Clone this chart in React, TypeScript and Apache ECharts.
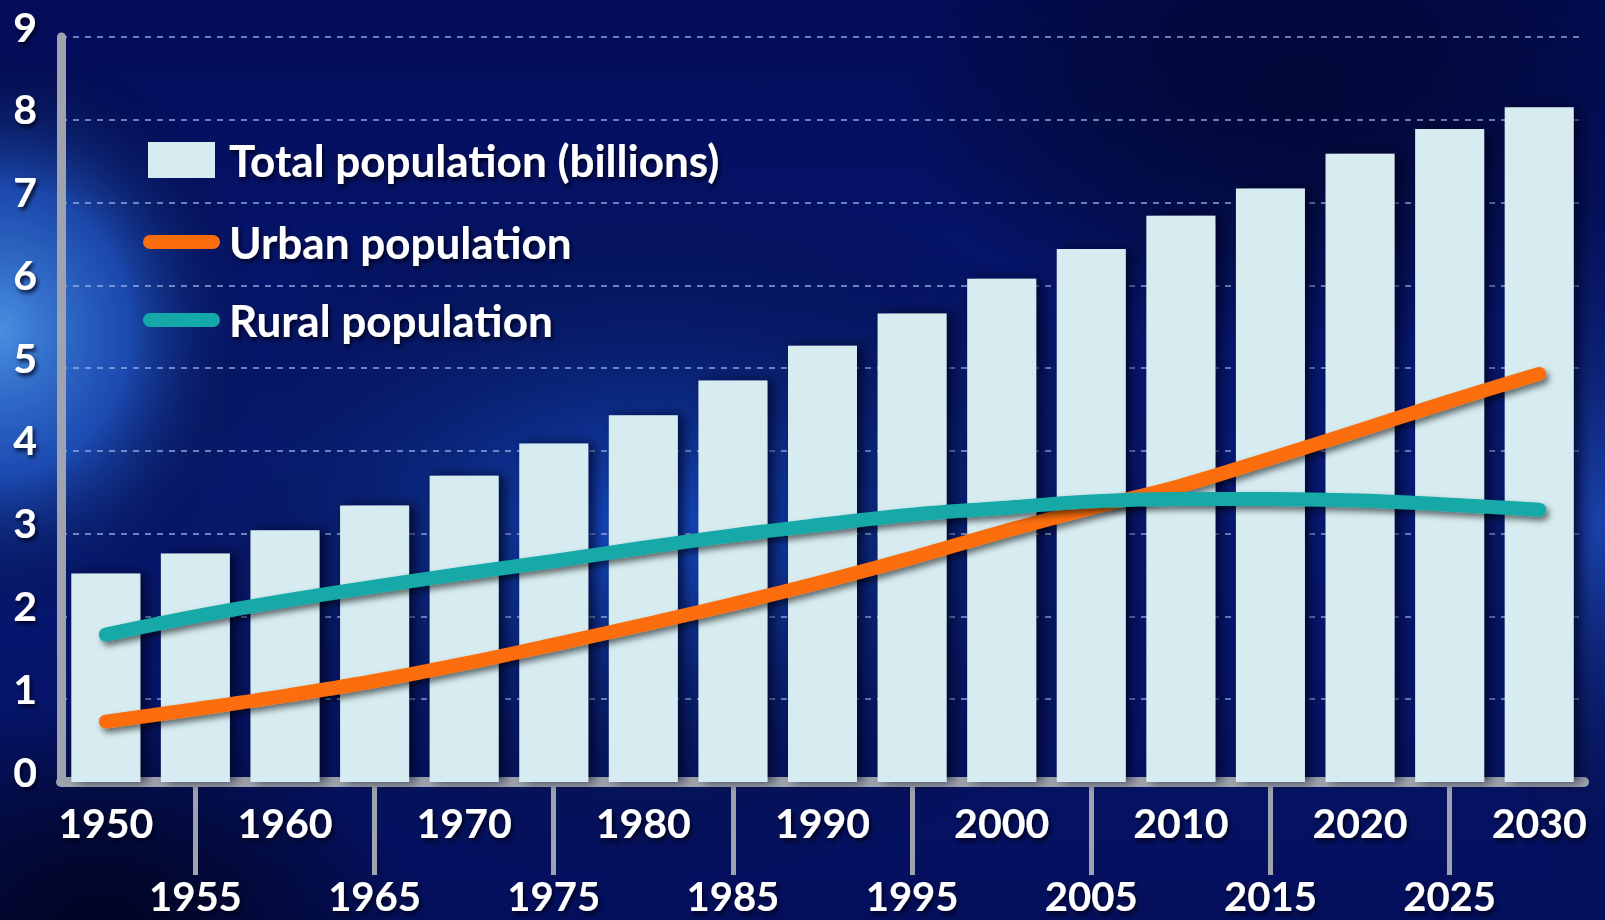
import React, { useEffect, useRef } from "react";
import * as echarts from "echarts";

const years = ["1950","1955","1960","1965","1970","1975","1980","1985","1990","1995","2000","2005","2010","2015","2020","2025","2030"];
const totalPopulation = [2.52,2.76,3.04,3.34,3.70,4.09,4.43,4.85,5.27,5.66,6.08,6.44,6.84,7.17,7.59,7.89,8.15];
const urbanPopulation = [0.73,0.88,1.04,1.22,1.43,1.66,1.90,2.15,2.42,2.71,3.02,3.31,3.58,3.91,4.25,4.60,4.93];
const ruralPopulation = [1.78,2.00,2.19,2.36,2.52,2.67,2.83,2.98,3.11,3.23,3.31,3.39,3.42,3.42,3.40,3.35,3.29];
const yTicks = [0,1,2,3,4,5,6,7,8,9];

const FONT = "Lato, 'Noto Sans', sans-serif";
const AXIS_GRAY = "#9ea3ad";
const txt = {
  color: "#ffffff",
  fontFamily: FONT,
  fontWeight: "bold" as const,
  fontSize: 41,
  textShadowColor: "rgba(0,0,20,0.85)",
  textShadowBlur: 4,
  textShadowOffsetX: 2,
  textShadowOffsetY: 3,
};

const capsule = "path://M7,0H70A7,7 0 0 1 70,14H7A7,7 0 0 1 7,0Z";

export default function App() {
  const ref = useRef<HTMLDivElement>(null);
  useEffect(() => {
    const chart = echarts.init(ref.current!, null, { renderer: "svg" });
    const glow = (x: number, y: number, w: number, h: number, c0: string, cMid?: string) => ({
      type: "rect",
      z: -10,
      silent: true,
      shape: { x, y, width: w, height: h },
      style: {
        fill: {
          type: "radial", x: 0.5, y: 0.5, r: 0.5,
          colorStops: cMid
            ? [
                { offset: 0, color: c0 },
                { offset: 0.5, color: cMid },
                { offset: 1, color: "rgba(0,0,0,0)" },
              ]
            : [
                { offset: 0, color: c0 },
                { offset: 1, color: "rgba(0,0,0,0)" },
              ],
        },
      },
    });
    chart.setOption({
      animation: false,
      backgroundColor: {
        type: "linear", x: 0, y: 0, x2: 0, y2: 1,
        colorStops: [
          { offset: 0, color: "#030c58" },
          { offset: 0.5, color: "#071a78" },
          { offset: 1, color: "#040f5c" },
        ],
      },
      graphic: [
        glow(100, 180, 1100, 700, "rgba(25,90,225,0.8)"),
        glow(-260, 40, 520, 580, "rgba(85,165,245,0.85)", "rgba(45,115,225,0.55)"),
        glow(-220, 700, 640, 460, "rgba(0,2,25,0.85)"),
        glow(900, -150, 800, 500, "rgba(1,4,40,0.7)"),
        glow(1470, 150, 260, 750, "rgba(40,95,210,0.6)"),
      ],
      grid: { left: 61, right: 21, top: 37, bottom: 138, containLabel: false },
      legend: [
        {
          data: [{ name: "Total population (billions)", icon: "rect" }],
          left: 143, top: 133, itemWidth: 67, itemHeight: 36,
          textStyle: { ...txt, fontSize: 44, padding: [0, 0, 0, 9] },
          selectedMode: false,
        },
        {
          data: [{ name: "Urban population", icon: capsule }],
          left: 138, top: 215, itemWidth: 77, itemHeight: 15,
          textStyle: { ...txt, fontSize: 44, padding: [0, 0, 0, 4] },
          selectedMode: false,
        },
        {
          data: [{ name: "Rural population", icon: capsule }],
          left: 138, top: 293, itemWidth: 77, itemHeight: 15,
          textStyle: { ...txt, fontSize: 44, padding: [0, 0, 0, 4] },
          selectedMode: false,
        },
      ],
      xAxis: [
        {
          type: "category",
          data: years,
          position: "bottom",
          axisLine: { show: true, lineStyle: { color: AXIS_GRAY, width: 10 } },
          axisTick: { show: false },
          axisLabel: { ...txt, interval: (i: number) => i % 2 === 0, margin: 20 },
          splitLine: { show: false },
        },
        {
          type: "category",
          data: years,
          position: "bottom",
          axisLine: { show: false },
          axisTick: {
            show: true, alignWithLabel: true, length: 93,
            interval: (i: number) => i % 2 === 1,
            lineStyle: { color: AXIS_GRAY, width: 5 },
          },
          axisLabel: { ...txt, fontSize: 40, lineHeight: 40, interval: (i: number) => i % 2 === 1, margin: 94 },
          splitLine: { show: false },
        },
      ],
      yAxis: {
        type: "value",
        min: yTicks[0],
        max: yTicks[yTicks.length - 1],
        interval: 1,
        axisLine: { show: true, lineStyle: { color: AXIS_GRAY, width: 9 } },
        axisTick: { show: false },
        axisLabel: { ...txt, margin: 24, verticalAlign: "bottom", lineHeight: 22 },
        splitLine: {
          show: true,
          lineStyle: { color: "rgba(150,175,230,0.7)", width: 2, type: [6, 6] },
        },
      },
      series: [
        {
          name: "Total population (billions)",
          type: "bar",
          data: totalPopulation,
          barWidth: "77%",
          itemStyle: {
            color: "#d6ecf1",
            shadowColor: "rgba(0,0,30,0.7)",
            shadowBlur: 12,
            shadowOffsetX: 6,
          },
          z: 2,
        },
        {
          name: "Urban population",
          type: "line",
          data: urbanPopulation,
          smooth: 0.4,
          symbol: "none",
          color: "#fb6d0c",
          lineStyle: {
            width: 14, cap: "round", color: "#fb6d0c",
            shadowColor: "rgba(0,0,0,0.55)", shadowBlur: 6, shadowOffsetX: 3, shadowOffsetY: 4,
          },
          z: 3,
        },
        {
          name: "Rural population",
          type: "line",
          data: ruralPopulation,
          smooth: 0.4,
          symbol: "none",
          color: "#14a9a7",
          lineStyle: {
            width: 14, cap: "round", color: "#14a9a7",
            shadowColor: "rgba(0,0,0,0.55)", shadowBlur: 6, shadowOffsetX: 3, shadowOffsetY: 4,
          },
          z: 4,
        },
      ],
    });
    return () => chart.dispose();
  }, []);
  return <div ref={ref} style={{ width: 1605, height: 920, position: "absolute", left: 0, top: 0 }} />;
}
